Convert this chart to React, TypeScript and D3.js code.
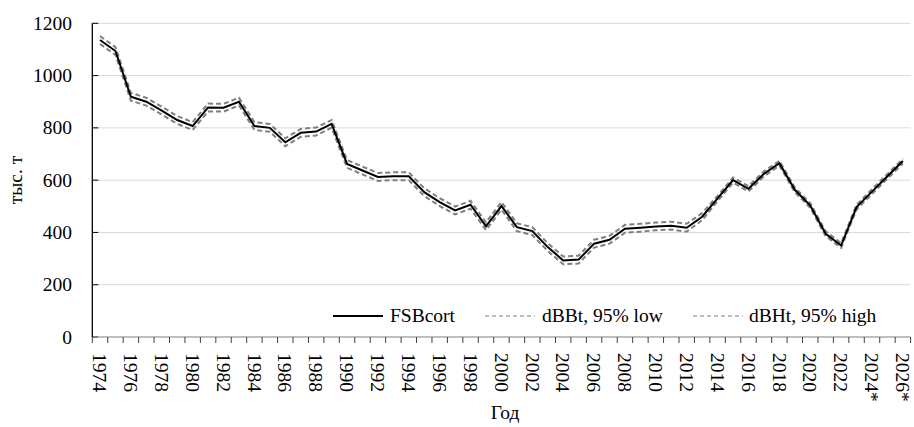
import React from 'react';
import * as d3 from 'd3';

const years: number[] = [
  1974, 1975, 1976, 1977, 1978, 1979, 1980, 1981, 1982, 1983,
  1984, 1985, 1986, 1987, 1988, 1989, 1990, 1991, 1992, 1993,
  1994, 1995, 1996, 1997, 1998, 1999, 2000, 2001, 2002, 2003,
  2004, 2005, 2006, 2007, 2008, 2009, 2010, 2011, 2012, 2013,
  2014, 2015, 2016, 2017, 2018, 2019, 2020, 2021, 2022, 2023,
  2024, 2025, 2026,
];

const tickLabels: [number, string][] = [
  [1974, '1974'], [1976, '1976'], [1978, '1978'], [1980, '1980'], [1982, '1982'],
  [1984, '1984'], [1986, '1986'], [1988, '1988'], [1990, '1990'], [1992, '1992'],
  [1994, '1994'], [1996, '1996'], [1998, '1998'], [2000, '2000'], [2002, '2002'],
  [2004, '2004'], [2006, '2006'], [2008, '2008'], [2010, '2010'], [2012, '2012'],
  [2014, '2014'], [2016, '2016'], [2018, '2018'], [2020, '2020'], [2022, '2022'],
  [2024, '2024*'], [2026, '2026*'],
];

const fsbcort: number[] = [
  1136, 1094, 919, 900, 866, 830, 807, 878, 877, 900,
  807, 800, 745, 781, 786, 815, 662, 637, 612, 615,
  615, 554, 516, 484, 506, 423, 501, 420, 405, 344,
  293, 296, 357, 372, 414, 418, 423, 426, 418, 460,
  530, 600, 567, 624, 665, 563, 503, 395, 350, 497,
  556, 615, 673,
];

const low95: number[] = [
  1121, 1079, 904, 885, 851, 815, 792, 863, 862, 886,
  792, 785, 730, 766, 771, 801, 647, 622, 597, 600,
  600, 539, 501, 469, 491, 409, 487, 405, 390, 329,
  278, 281, 342, 357, 399, 403, 408, 411, 403, 447,
  520, 590, 557, 614, 656, 554, 494, 386, 341, 488,
  547, 606, 664,
];

const high95: number[] = [
  1151, 1109, 934, 915, 881, 845, 822, 893, 892, 915,
  822, 815, 760, 796, 801, 830, 677, 652, 627, 630,
  630, 569, 531, 499, 521, 438, 516, 435, 420, 359,
  308, 311, 372, 387, 429, 433, 438, 441, 433, 474,
  540, 610, 577, 634, 674, 572, 512, 404, 359, 506,
  565, 624, 682,
];

const yTicks: number[] = [0, 200, 400, 600, 800, 1000, 1200];

const FONT = '"Liberation Serif", "Times New Roman", serif';

export default function App() {
  const left = 92.3;
  const right = 910.6;
  const top = 23.3;
  const bottom = 337;

  const x = d3.scaleBand<number>().domain(years).range([left, right]).padding(0);
  const y = d3.scaleLinear().domain([0, 1200]).range([bottom, top]);
  const cx = (yr: number) => (x(yr) as number) + x.bandwidth() / 2;

  const mk = (vals: number[]) =>
    d3.line<number>().x((_, i) => cx(years[i])).y((v) => y(v))(vals) || '';

  const boundaries = d3.range(years.length + 1).map((i) => left + i * x.bandwidth());

  return (
    <svg width={914} height={427} style={{ position: 'absolute', left: 0, top: 0, background: '#fff' }} fontFamily={FONT}>
      {yTicks.map((t) => (
        <g key={t}>
          {t > 0 && <line x1={left} x2={right} y1={y(t)} y2={y(t)} stroke="#d9d9d9" strokeWidth={1} />}
          <line x1={left} x2={left + 6} y1={y(t)} y2={y(t)} stroke="#000" strokeWidth={1} />
          <text x={72} y={y(t) + 6.5} textAnchor="end" fontSize={19.5} fill="#000">{t}</text>
        </g>
      ))}
      <line x1={left} x2={right} y1={bottom} y2={bottom} stroke="#808080" strokeWidth={1.2} />
      {boundaries.map((bx, i) => (
        <line key={i} x1={bx} x2={bx} y1={bottom} y2={bottom + 6} stroke="#404040" strokeWidth={1} />
      ))}
      <line x1={left} x2={left} y1={top} y2={bottom} stroke="#000" strokeWidth={1.3} />

      {tickLabels.map(([yr, lab]) => (
        <text key={yr} transform={`translate(${cx(yr)},${bottom + 16}) rotate(90)`} dy="0.35em" fontSize={19.5} fill="#000">
          {lab}
        </text>
      ))}

      <path d={mk(low95)} fill="none" stroke="#7f7f7f" strokeWidth={2} strokeDasharray="5,3" />
      <path d={mk(high95)} fill="none" stroke="#7f7f7f" strokeWidth={2} strokeDasharray="5,3" />
      <path d={mk(fsbcort)} fill="none" stroke="#000" strokeWidth={2} />

      <g fontSize={19.5} fill="#000">
        <line x1={333} x2={383} y1={316} y2={316} stroke="#000" strokeWidth={2} />
        <text x={390} y={322}>FSBcort</text>
        <line x1={485} x2={535} y1={316} y2={316} stroke="#7f7f7f" strokeWidth={1} strokeDasharray="4,3" />
        <text x={542} y={322}>dBBt, 95% low</text>
        <line x1={693} x2={743} y1={316} y2={316} stroke="#7f7f7f" strokeWidth={1} strokeDasharray="4,3" />
        <text x={749} y={322}>dBHt, 95% high</text>
      </g>

      <text transform="translate(22,180) rotate(-90)" textAnchor="middle" fontSize={19.5} fill="#000">тыс. т</text>
      <text x={505} y={419} textAnchor="middle" fontSize={19.5} fill="#000">Год</text>
    </svg>
  );
}
